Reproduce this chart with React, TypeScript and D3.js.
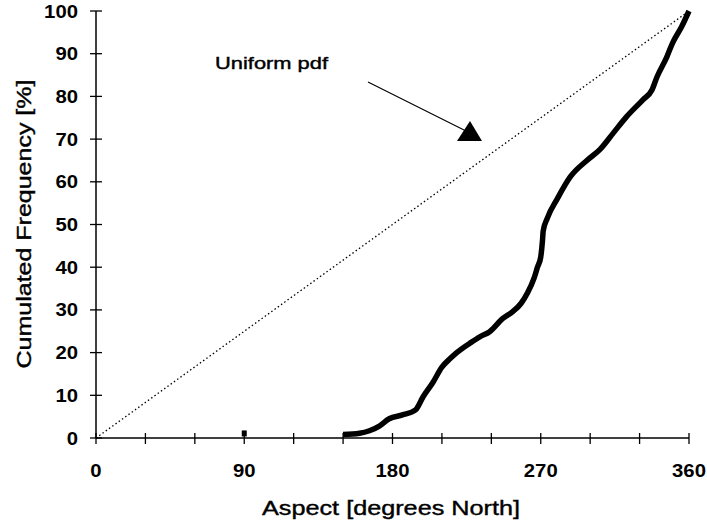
import React, { useRef, useEffect } from 'react'
import * as d3 from 'd3'

// cumulated frequency curve
const aspect = [150, 160, 166, 172, 178, 186, 194, 198.5, 204.5, 210, 215, 219, 227, 233, 239, 247, 253, 258, 262, 266, 268, 270, 271, 271.5, 274, 280, 288, 298, 306, 314, 322, 332, 337.5, 340.5, 346.5, 350, 355.5, 360]
const cumFreq = [0.8, 1.1, 1.7, 2.8, 4.5, 5.4, 6.6, 9.6, 13, 16.6, 18.6, 20, 22.2, 23.7, 24.9, 28, 29.6, 31.5, 34, 37.5, 40, 42.4, 46, 48.5, 51.5, 56, 61.2, 65, 67.6, 71.4, 75.2, 79.2, 81.5, 84.5, 89.2, 92.5, 96.3, 100]

const uniformX = [0, 360]
const uniformY = [0, 100]

const xTicks = [0, 90, 180, 270, 360]
const xMinor = [0, 30, 60, 90, 120, 150, 180, 210, 240, 270, 300, 330, 360]
const yTicks = [0, 10, 20, 30, 40, 50, 60, 70, 80, 90, 100]

// stray point sitting on the axis near 90
const strayPoint = [90, 0.6]

const Chart = () => {
  const ref = useRef()

  useEffect(() => {
    const svg = d3.select(ref.current)
    svg.selectAll('*').remove()

    const x = d3.scaleLinear().domain([0, 360]).range([96, 689])
    const y = d3.scaleLinear().domain([0, 100]).range([438, 11])
    const font = 'Liberation Sans, Arial, sans-serif'
    const digitW = 11.3

    // axes lines
    svg.append('line')
      .attr('x1', x(0)).attr('x2', x(0)).attr('y1', y(0)).attr('y2', y(100))
      .attr('stroke', 'black').attr('stroke-width', 1.5)
    svg.append('line')
      .attr('x1', x(0)).attr('x2', x(360)).attr('y1', y(0)).attr('y2', y(0))
      .attr('stroke', 'black').attr('stroke-width', 1.5)

    svg.selectAll('.ytick')
      .data(yTicks)
      .enter()
      .append('line')
      .attr('x1', x(0) - 6).attr('x2', x(0) + 6)
      .attr('y1', d => y(d)).attr('y2', d => y(d))
      .attr('stroke', 'black').attr('stroke-width', 1.3)

    svg.selectAll('.xtick')
      .data(xMinor)
      .enter()
      .append('line')
      .attr('x1', d => x(d)).attr('x2', d => x(d))
      .attr('y1', y(0) - 5).attr('y2', y(0) + 6)
      .attr('stroke', 'black').attr('stroke-width', 1.3)

    svg.selectAll('.ylab')
      .data(yTicks)
      .enter()
      .append('text')
      .attr('x', 78)
      .attr('y', d => y(d) + 6.5)
      .attr('text-anchor', 'end')
      .attr('font-family', font)
      .attr('font-weight', 'bold')
      .attr('font-size', 18)
      .attr('textLength', d => String(d).length * digitW)
      .attr('lengthAdjust', 'spacingAndGlyphs')
      .text(d => d)

    svg.selectAll('.xlab')
      .data(xTicks)
      .enter()
      .append('text')
      .attr('x', d => x(d))
      .attr('y', 477)
      .attr('text-anchor', 'middle')
      .attr('font-family', font)
      .attr('font-weight', 'bold')
      .attr('font-size', 18)
      .attr('textLength', d => String(d).length * digitW)
      .attr('lengthAdjust', 'spacingAndGlyphs')
      .text(d => d)

    svg.append('text')
      .attr('x', 391).attr('y', 515)
      .attr('text-anchor', 'middle')
      .attr('font-family', font)
      .attr('font-size', 21)
      .attr('stroke', 'black').attr('stroke-width', 0.4)
      .attr('textLength', 258)
      .attr('lengthAdjust', 'spacingAndGlyphs')
      .text('Aspect [degrees North]')

    svg.append('text')
      .attr('transform', 'translate(31, 224) rotate(-90)')
      .attr('text-anchor', 'middle')
      .attr('font-family', font)
      .attr('font-size', 21)
      .attr('stroke', 'black').attr('stroke-width', 0.4)
      .attr('textLength', 289)
      .attr('lengthAdjust', 'spacingAndGlyphs')
      .text('Cumulated Frequency [%]')

    // uniform cdf
    const line = d3.line().x(d => x(d[0])).y(d => y(d[1]))
    svg.append('path')
      .attr('d', line(d3.zip(uniformX, uniformY)))
      .attr('fill', 'none')
      .attr('stroke', 'black')
      .attr('stroke-width', 1.3)
      .attr('stroke-dasharray', '1.5,2.5')

    // observed cdf
    svg.append('path')
      .attr('d', d3.line().curve(d3.curveMonotoneX).x(d => x(d[0])).y(d => y(d[1]))(d3.zip(aspect, cumFreq)))
      .attr('fill', 'none')
      .attr('stroke', 'black')
      .attr('stroke-width', 5.5)
      .attr('stroke-linejoin', 'round')

    svg.append('rect')
      .attr('x', x(strayPoint[0]) - 2.5).attr('y', y(strayPoint[1]) - 5)
      .attr('width', 5).attr('height', 6)
      .attr('fill', 'black')

    // annotation
    svg.append('text')
      .attr('x', 215).attr('y', 69)
      .attr('font-family', font)
      .attr('font-size', 16.5)
      .attr('stroke', 'black').attr('stroke-width', 0.4)
      .attr('textLength', 113)
      .attr('lengthAdjust', 'spacingAndGlyphs')
      .text('Uniform pdf')
    svg.append('line')
      .attr('x1', 368).attr('y1', 82).attr('x2', 466).attr('y2', 131)
      .attr('stroke', 'black').attr('stroke-width', 1.2)
    svg.append('path')
      .attr('d', 'M470,121 L482,141 L457,141 Z')
      .attr('fill', 'black')
  }, [])

  return (
    <svg ref={ref} width={707} height={526}
      style={{ position: 'absolute', left: 0, top: 0, background: 'white' }} />
  )
}

export default function App() {
  return <Chart />
}
